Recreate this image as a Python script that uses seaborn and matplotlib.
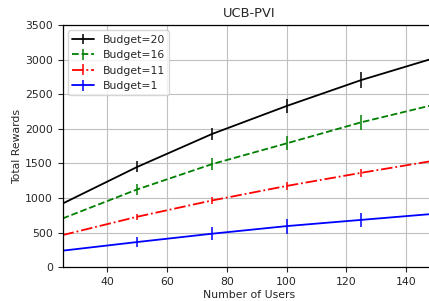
import matplotlib
matplotlib.use("Agg")
import matplotlib.pyplot as plt
import seaborn as sns

# number of users (x) and total rewards per budget
users = [25, 50, 75, 100, 125, 150]

budget_20 = [920, 1450, 1925, 2330, 2705, 3030]
budget_16 = [705, 1125, 1490, 1790, 2095, 2355]
budget_11 = [465, 730, 965, 1175, 1365, 1545]
budget_1 = [240, 365, 485, 595, 685, 775]

err_20 = [60, 80, 85, 100, 120, 120]
err_16 = [60, 85, 90, 100, 108, 110]
err_11 = [40, 43, 45, 53, 60, 60]
err_1 = [55, 72, 95, 108, 100, 100]

labels = ["Budget=20", "Budget=16", "Budget=11", "Budget=1"]
colors = ["black", "green", "red", "blue"]
styles = ["-", "--", "-.", "-"]

sns.set_style("whitegrid", {
    "axes.edgecolor": "black",
    "grid.color": "#c0c0c0",
    "xtick.bottom": True,
    "ytick.left": True,
})
plt.rcParams["font.family"] = ["DejaVu Sans"]
plt.rcParams["font.size"] = 7.8
plt.rcParams["xtick.major.size"] = 3.5
plt.rcParams["ytick.major.size"] = 3.5

fig = plt.figure(figsize=(4.29, 3.01), dpi=100)
ax = fig.add_axes([62.5 / 429, 1 - 267.3 / 301, (436 - 62.5) / 429, (267.3 - 25) / 301])

series = [budget_20, budget_16, budget_11, budget_1]
errors = [err_20, err_16, err_11, err_1]
for vals, errs, lab, c, ls in zip(series, errors, labels, colors, styles):
    ax.errorbar(users, vals, yerr=errs, color=c, linestyle=ls, label=lab, linewidth=1.3, elinewidth=1.1)

ax.set_xlim(25, 150)
ax.set_ylim(0, 3500)
ax.set_xticks([40, 60, 80, 100, 120, 140])
ax.set_yticks(range(0, 3501, 500))
ax.set_title("UCB-PVI", fontsize=9.4)
ax.set_xlabel("Number of Users", fontsize=7.8, labelpad=2)
ax.set_ylabel("Total Rewards", fontsize=7.8, labelpad=2)
for sp in ax.spines.values():
    sp.set_linewidth(0.9)
ax.legend(loc="upper left", fontsize=7.8, framealpha=0.8)

fig.savefig("out.png", dpi=100)
